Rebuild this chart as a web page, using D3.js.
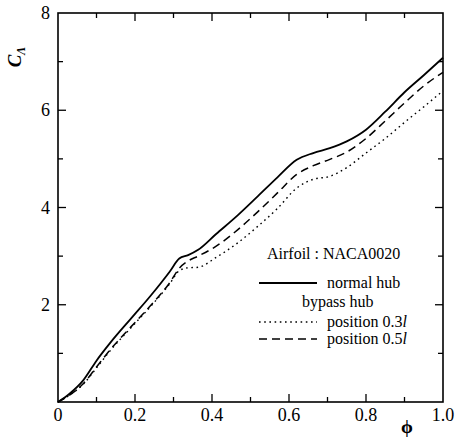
<!DOCTYPE html>
<html>
<head>
<meta charset="utf-8">
<script src="https://cdn.jsdelivr.net/npm/d3@7"></script>
<style>
  body { margin: 0; background: #fff; }
</style>
</head>
<body>
<div id="chart"></div>
<script>
// data
const phi = [0, 0.03, 0.066, 0.1, 0.135, 0.19, 0.24, 0.29, 0.315, 0.338, 0.364, 0.41,
  0.468, 0.52, 0.57, 0.62, 0.663, 0.706, 0.75, 0.8, 0.85, 0.9, 0.95, 1.0];
const normalHub = [0, 0.17, 0.45, 0.85, 1.21, 1.72, 2.18, 2.68, 2.95, 3.02, 3.13, 3.45,
  3.85, 4.24, 4.62, 4.98, 5.12, 5.22, 5.36, 5.6, 5.97, 6.37, 6.72, 7.08];
const pos03 = [0, 0.14, 0.37, 0.7, 1.05, 1.53, 1.96, 2.43, 2.7, 2.76, 2.77, 2.97,
  3.28, 3.62, 3.98, 4.4, 4.58, 4.64, 4.82, 5.12, 5.42, 5.75, 6.07, 6.4];
const pos05 = [0, 0.14, 0.38, 0.72, 1.07, 1.55, 1.98, 2.45, 2.75, 2.9, 3.0, 3.2,
  3.55, 3.92, 4.3, 4.68, 4.86, 4.99, 5.14, 5.42, 5.78, 6.15, 6.5, 6.78];
const xTicks = [0, 0.2, 0.4, 0.6, 0.8, 1.0];
const yTicks = [2, 4, 6, 8];

const W = 458, H = 438;
const margin = { top: 13, right: 15, bottom: 36, left: 58 };

const svg = d3.select("#chart").append("svg")
  .attr("width", W).attr("height", H)
  .style("font-family", "'Liberation Serif', 'Times New Roman', serif");

const x = d3.scaleLinear().domain([0, 1]).range([margin.left, W - margin.right]);
const y = d3.scaleLinear().domain([0, 8]).range([H - margin.bottom, margin.top]);

// frame
svg.append("rect")
  .attr("x", x(0)).attr("y", y(8))
  .attr("width", x(1) - x(0)).attr("height", y(0) - y(8))
  .attr("fill", "none").attr("stroke", "#000").attr("stroke-width", 1.6);

// inward ticks on all four sides
const xMinor = d3.range(0.1, 1, 0.1);
const yMinor = d3.range(1, 8, 1);
const g = svg.append("g").attr("stroke", "#000").attr("stroke-width", 1.3);
xMinor.forEach(v => {
  const major = Math.abs(v * 5 - Math.round(v * 5)) < 1e-6;
  const len = major ? 8 : 5;
  g.append("line").attr("x1", x(v)).attr("x2", x(v)).attr("y1", y(0)).attr("y2", y(0) - len);
  g.append("line").attr("x1", x(v)).attr("x2", x(v)).attr("y1", y(8)).attr("y2", y(8) + len);
});
yMinor.forEach(v => {
  const len = v % 2 === 0 ? 8 : 5;
  g.append("line").attr("x1", x(0)).attr("x2", x(0) + len).attr("y1", y(v)).attr("y2", y(v));
  g.append("line").attr("x1", x(1)).attr("x2", x(1) - len).attr("y1", y(v)).attr("y2", y(v));
});

// tick labels
svg.append("g").selectAll("text").data(xTicks).join("text")
  .attr("x", d => x(d)).attr("y", y(0) + 19)
  .attr("text-anchor", "middle").attr("font-size", 18)
  .text(d => d === 0 ? "0" : d3.format(".1f")(d));
svg.append("g").selectAll("text").data(yTicks).join("text")
  .attr("x", x(0) - 8).attr("y", d => y(d) + 6)
  .attr("text-anchor", "end").attr("font-size", 18)
  .text(d => d);

// axis titles
svg.append("text")
  .attr("x", 407).attr("y", 433)
  .attr("text-anchor", "middle").attr("font-size", 19).attr("font-weight", "bold")
  .text("ϕ");
const yl = svg.append("text")
  .attr("transform", "translate(21,57) rotate(-90)")
  .attr("text-anchor", "middle").attr("font-size", 19)
  .attr("font-weight", "bold").attr("font-style", "italic");
yl.append("tspan").text("C");
yl.append("tspan").attr("font-size", 12).attr("dy", 4).text("Λ");

// curves
const line = d3.line()
  .x((d, i) => x(phi[i]))
  .y(d => y(d))
  .curve(d3.curveMonotoneX);

svg.append("path").datum(normalHub).attr("d", line)
  .attr("fill", "none").attr("stroke", "#000").attr("stroke-width", 1.8);
svg.append("path").datum(pos05).attr("d", line)
  .attr("fill", "none").attr("stroke", "#000").attr("stroke-width", 1.5)
  .attr("stroke-dasharray", "8,5");
svg.append("path").datum(pos03).attr("d", line)
  .attr("fill", "none").attr("stroke", "#000").attr("stroke-width", 1.4)
  .attr("stroke-dasharray", "1.6,3.6");

// legend
const lg = svg.append("g").attr("font-size", 16);
lg.append("text").attr("x", 267).attr("y", 259).text("Airfoil : NACA0020");
lg.append("line").attr("x1", 259).attr("x2", 317).attr("y1", 283).attr("y2", 283)
  .attr("stroke", "#000").attr("stroke-width", 1.8);
lg.append("text").attr("x", 327).attr("y", 288).text("normal hub");
lg.append("text").attr("x", 302).attr("y", 307).text("bypass hub");
lg.append("line").attr("x1", 259).attr("x2", 317).attr("y1", 322).attr("y2", 322)
  .attr("stroke", "#000").attr("stroke-width", 1.4).attr("stroke-dasharray", "1.6,3.6");
const t1 = lg.append("text").attr("x", 327).attr("y", 327).text("position 0.3");
t1.append("tspan").attr("font-style", "italic").text("l");
lg.append("line").attr("x1", 259).attr("x2", 317).attr("y1", 339).attr("y2", 339)
  .attr("stroke", "#000").attr("stroke-width", 1.5).attr("stroke-dasharray", "8,5");
const t2 = lg.append("text").attr("x", 327).attr("y", 344).text("position 0.5");
t2.append("tspan").attr("font-style", "italic").text("l");
</script>
</body>
</html>
